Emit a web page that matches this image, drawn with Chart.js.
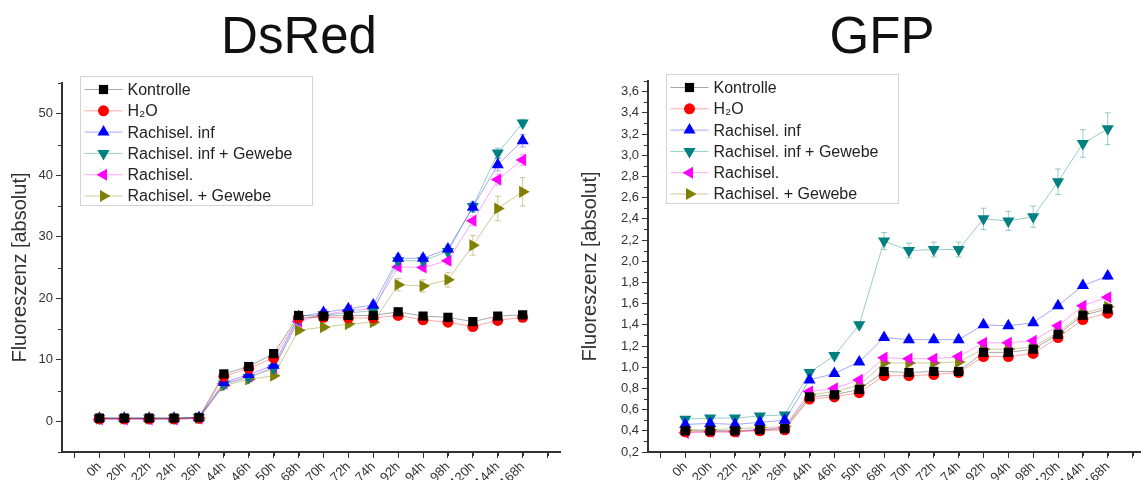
<!DOCTYPE html>
<html>
<head>
<meta charset="utf-8">
<script src="https://cdn.jsdelivr.net/npm/chart.js@4.4.1/dist/chart.umd.min.js"></script>
<style>
  html, body { margin: 0; padding: 0; background: #fff; overflow: hidden; width: 1141px; height: 480px; }
  .wrap { position: absolute; top: 0; height: 480px; }
  #w1 { left: 0; width: 598px; }
  #w2 { left: 578px; width: 608px; }
</style>
</head>
<body>
<div class="wrap" id="w1"><canvas id="dsred" width="598" height="480"></canvas></div>
<div class="wrap" id="w2"><canvas id="gfp" width="608" height="480"></canvas></div>
<script>
const hours = ['0h', '20h', '22h', '24h', '26h', '44h', '46h', '50h', '68h', '70h', '72h', '74h', '92h', '94h', '98h', '120h', '144h', '168h'];
const seriesNames = ['Kontrolle', 'H₂O', 'Rachisel. inf', 'Rachisel. inf + Gewebe', 'Rachisel.', 'Rachisel. + Gewebe'];

// DsRed
const dsKontrolle = [0.5, 0.5, 0.5, 0.5, 0.6, 7.7, 8.9, 11.0, 17.2, 17.1, 17.2, 17.2, 17.8, 17.1, 16.9, 16.2, 17.1, 17.3];
const dsH2O = [0.4, 0.4, 0.4, 0.4, 0.5, 7.3, 8.6, 10.3, 16.8, 16.9, 16.8, 16.8, 17.2, 16.5, 16.1, 15.4, 16.4, 16.9];
const dsRachInf = [0.5, 0.5, 0.5, 0.5, 0.6, 6.3, 7.6, 9.1, 17.0, 17.7, 18.3, 18.9, 26.5, 26.5, 28.0, 34.8, 41.7, 45.6];
const dsRachInfGewebe = [0.5, 0.5, 0.5, 0.5, 0.6, 6.0, 7.1, 8.6, 16.6, 17.3, 17.6, 18.0, 26.1, 26.1, 27.6, 34.9, 43.6, 48.5];
const dsRach = [0.3, 0.3, 0.3, 0.3, 0.4, 6.1, 7.3, 8.7, 16.2, 17.3, 18.0, 18.3, 25.1, 25.0, 26.1, 32.6, 39.3, 42.5];
const dsRachGewebe = [0.4, 0.4, 0.4, 0.4, 0.5, 5.8, 6.8, 7.4, 14.8, 15.3, 15.8, 16.1, 22.2, 22.0, 23.0, 28.6, 34.6, 37.3];

const dsErrKontrolle = [0.1, 0.1, 0.1, 0.1, 0.1, 0.3, 0.3, 0.4, 0.4, 0.3, 0.3, 0.3, 0.4, 0.3, 0.3, 0.4, 0.3, 0.4];
const dsErrH2O = [0.1, 0.1, 0.1, 0.1, 0.1, 0.3, 0.3, 0.4, 0.4, 0.3, 0.3, 0.3, 0.4, 0.3, 0.3, 0.4, 0.3, 0.4];
const dsErrRachInf = [0.1, 0.1, 0.1, 0.1, 0.1, 0.3, 0.3, 0.4, 0.4, 0.4, 0.4, 0.5, 0.6, 0.6, 0.6, 0.8, 1.0, 1.0];
const dsErrRachInfGewebe = [0.1, 0.1, 0.1, 0.1, 0.1, 0.3, 0.3, 0.4, 0.4, 0.4, 0.4, 0.5, 0.6, 0.6, 0.6, 0.8, 0.8, 0.6];
const dsErrRach = [0.1, 0.1, 0.1, 0.1, 0.1, 0.3, 0.3, 0.4, 0.4, 0.4, 0.4, 0.5, 0.6, 0.6, 0.6, 0.8, 0.9, 0.9];
const dsErrRachGewebe = [0.1, 0.1, 0.1, 0.1, 0.1, 0.3, 0.3, 0.4, 0.5, 0.5, 0.5, 0.5, 1.0, 1.0, 1.2, 1.6, 2.0, 2.3];

// GFP
const gfpKontrolle = [0.40, 0.40, 0.40, 0.41, 0.42, 0.72, 0.74, 0.79, 0.96, 0.95, 0.96, 0.96, 1.14, 1.14, 1.17, 1.31, 1.49, 1.55];
const gfpH2O = [0.39, 0.39, 0.39, 0.40, 0.41, 0.70, 0.72, 0.76, 0.92, 0.92, 0.93, 0.95, 1.10, 1.10, 1.13, 1.28, 1.45, 1.51];
const gfpRachInf = [0.46, 0.47, 0.46, 0.48, 0.50, 0.88, 0.94, 1.05, 1.28, 1.26, 1.26, 1.26, 1.40, 1.39, 1.42, 1.58, 1.77, 1.86];
const gfpRachInfGewebe = [0.51, 0.52, 0.52, 0.54, 0.55, 0.95, 1.11, 1.40, 2.19, 2.10, 2.11, 2.11, 2.40, 2.38, 2.42, 2.75, 3.11, 3.25];
const gfpRach = [0.38, 0.39, 0.39, 0.41, 0.43, 0.77, 0.80, 0.88, 1.09, 1.08, 1.08, 1.10, 1.23, 1.23, 1.25, 1.39, 1.58, 1.66];
const gfpRachGewebe = [0.41, 0.41, 0.42, 0.43, 0.44, 0.74, 0.77, 0.83, 1.04, 1.04, 1.04, 1.05, 1.17, 1.17, 1.19, 1.33, 1.51, 1.57];

const gfpErrSmall = [0.01, 0.01, 0.01, 0.01, 0.01, 0.02, 0.02, 0.02, 0.02, 0.02, 0.02, 0.02, 0.02, 0.02, 0.02, 0.02, 0.02, 0.03];
const gfpErrRachInfGewebe = [0.02, 0.02, 0.02, 0.02, 0.02, 0.03, 0.03, 0.03, 0.08, 0.07, 0.07, 0.07, 0.10, 0.09, 0.10, 0.12, 0.13, 0.15];

const dsYTicks = [0, 10, 20, 30, 40, 50];
const gfpYTicks = [0.2, 0.4, 0.6, 0.8, 1.0, 1.2, 1.4, 1.6, 1.8, 2.0, 2.2, 2.4, 2.6, 2.8, 3.0, 3.2, 3.4, 3.6];

const markColors = ['#000000', '#ff0000', '#0000ff', '#008080', '#ff00ff', '#808000'];
const lineColors = ['rgba(0,0,0,0.35)', 'rgba(255,0,0,0.35)', 'rgba(0,0,255,0.35)', 'rgba(0,128,128,0.4)', 'rgba(255,0,255,0.35)', 'rgba(128,128,0,0.4)'];
const pointStyles = ['rect', 'circle', 'triangle', 'triangle', 'triangle', 'triangle'];
const pointRotations = [0, 0, 0, 180, 270, 90];
const pointSizes = [6.5, 5.5, 7, 7, 7, 7];

const FONT = 'Arial, "Liberation Sans", sans-serif';

function makeDatasets(series, errors) {
  return series.map((values, i) => ({
    label: seriesNames[i],
    data: values.map((v, k) => ({ x: k, y: v })),
    err: errors[i],
    borderColor: lineColors[i],
    borderWidth: 1,
    backgroundColor: markColors[i],
    pointBackgroundColor: markColors[i],
    pointBorderWidth: 0,
    pointStyle: pointStyles[i],
    pointRotation: pointRotations[i],
    pointRadius: pointSizes[i],
    tension: 0
  }));
}

const errorBars = {
  id: 'errorBars',
  beforeDatasetsDraw(chart) {
    const ctx = chart.ctx, ys = chart.scales.y, xs = chart.scales.x;
    ctx.save();
    ctx.lineWidth = 1;
    chart.data.datasets.forEach(ds => {
      ctx.strokeStyle = ds.borderColor;
      ctx.beginPath();
      ds.data.forEach((p, k) => {
        const e = ds.err[k];
        const px = xs.getPixelForValue(p.x);
        const y1 = ys.getPixelForValue(p.y + e), y2 = ys.getPixelForValue(p.y - e);
        ctx.moveTo(px, y1); ctx.lineTo(px, y2);
        ctx.moveTo(px - 3, y1); ctx.lineTo(px + 3, y1);
        ctx.moveTo(px - 3, y2); ctx.lineTo(px + 3, y2);
      });
      ctx.stroke();
    });
    ctx.restore();
  }
};

const minorTicks = {
  id: 'minorTicks',
  afterDraw(chart, args, opts) {
    const ctx = chart.ctx, xs = chart.scales.x, ys = chart.scales.y;
    ctx.save();
    ctx.strokeStyle = '#333';
    ctx.lineWidth = 1;
    ctx.beginPath();
    for (let v = xs.min + 0.5; v < xs.max; v += 1) {
      const px = Math.round(xs.getPixelForValue(v)) + 0.5;
      ctx.moveTo(px, xs.top); ctx.lineTo(px, xs.top + 4);
    }
    for (let v = opts.yStart; v <= ys.max + 1e-9; v += opts.yStep) {
      const py = Math.round(ys.getPixelForValue(v)) + 0.5;
      ctx.moveTo(ys.right, py); ctx.lineTo(ys.right - 4, py);
    }
    ctx.stroke();
    ctx.restore();
  }
};

const boxLegend = {
  id: 'boxLegend',
  afterDatasetsDraw(chart, args, opts) {
    const ctx = chart.ctx, a = chart.chartArea;
    const left = Math.round(a.left + opts.dx) + 0.5, top = Math.round(a.top + opts.dy) + 0.5;
    const w = 232, h = 129, rowH = 21.3;
    ctx.save();
    ctx.fillStyle = '#fff';
    ctx.fillRect(left, top, w, h);
    ctx.strokeStyle = '#d4d4d4';
    ctx.lineWidth = 1;
    ctx.strokeRect(left, top, w, h);
    chart.data.datasets.forEach((ds, i) => {
      const cy = top + 13 + i * rowH;
      ctx.strokeStyle = ds.borderColor;
      ctx.beginPath();
      ctx.moveTo(left + 4, cy); ctx.lineTo(left + 42, cy);
      ctx.stroke();
      ctx.fillStyle = ds.pointBackgroundColor;
      Chart.helpers.drawPoint(ctx, { pointStyle: ds.pointStyle, rotation: ds.pointRotation, radius: ds.pointRadius, borderWidth: 0 }, left + 23, cy);
      ctx.fillStyle = '#222';
      ctx.font = '16px ' + FONT;
      ctx.textBaseline = 'middle';
      ctx.textAlign = 'left';
      ctx.fillText(ds.label, left + 47, cy + 1);
    });
    ctx.restore();
  }
};

const bigTitle = {
  id: 'bigTitle',
  afterDraw(chart, args, opts) {
    const ctx = chart.ctx;
    ctx.save();
    ctx.fillStyle = '#111';
    ctx.font = '51px ' + FONT;
    ctx.textAlign = 'center';
    ctx.textBaseline = 'alphabetic';
    ctx.fillText(opts.text, chart.width / 2, 53);
    ctx.restore();
  }
};

function makeChart(id, title, datasets, yMin, yMax, yTicks, yFmt, yMinorStart, yMinorStep, yWidth, padRight, titlePad, padTop) {
  return new Chart(document.getElementById(id), {
    type: 'line',
    data: { datasets: datasets },
    plugins: [errorBars, minorTicks, boxLegend, bigTitle],
    options: {
      responsive: false,
      animation: false,
      layout: { padding: { top: padTop, left: 0, right: padRight, bottom: 0 } },
      plugins: {
        legend: { display: false },
        tooltip: { enabled: false },
        minorTicks: { yStart: yMinorStart, yStep: yMinorStep },
        boxLegend: { dx: 18, dy: -7 },
        bigTitle: { text: title }
      },
      scales: {
        x: {
          type: 'linear',
          min: -1.5,
          max: 18.5,
          afterBuildTicks(scale) {
            const t = [];
            for (let v = -1; v <= 18; v++) t.push({ value: v });
            scale.ticks = t;
          },
          afterFit(scale) { scale.height = 28; },
          grid: { drawOnChartArea: false, drawTicks: true, tickLength: 6, tickColor: '#333', tickWidth: 1 },
          border: { display: true, color: '#333', width: 2 },
          ticks: {
            autoSkip: false,
            minRotation: 45,
            maxRotation: 45,
            padding: 1,
            color: '#333',
            font: { family: FONT, size: 13 },
            callback: v => (Number.isInteger(v) && v >= 0 && v < hours.length) ? hours[v] : ''
          }
        },
        y: {
          min: yMin,
          max: yMax,
          afterBuildTicks(scale) { scale.ticks = yTicks.map(v => ({ value: v })); },
          afterFit(scale) { scale.width = yWidth; },
          grid: { drawOnChartArea: false, drawTicks: true, tickLength: 6, tickColor: '#333', tickWidth: 1 },
          border: { display: true, color: '#333', width: 2 },
          ticks: {
            padding: 3,
            color: '#333',
            font: { family: FONT, size: 13 },
            callback: yFmt
          },
          title: {
            display: true,
            text: 'Fluoreszenz [absolut]',
            color: '#333',
            font: { family: FONT, size: 20 },
            padding: { top: titlePad, bottom: 0 }
          }
        }
      }
    }
  });
}

const dsChart = makeChart('dsred', 'DsRed',
  makeDatasets([dsKontrolle, dsH2O, dsRachInf, dsRachInfGewebe, dsRach, dsRachGewebe],
               [dsErrKontrolle, dsErrH2O, dsErrRachInf, dsErrRachInfGewebe, dsErrRach, dsErrRachGewebe]),
  -5, 55, dsYTicks, v => String(v), -5, 10, 62, 38, 8, 83);

const gfpChart = makeChart('gfp', 'GFP',
  makeDatasets([gfpKontrolle, gfpH2O, gfpRachInf, gfpRachInfGewebe, gfpRach, gfpRachGewebe],
               [gfpErrSmall, gfpErrSmall, gfpErrSmall, gfpErrRachInfGewebe, gfpErrSmall, gfpErrSmall]),
  0.2, 3.7, gfpYTicks, v => v.toFixed(1).replace('.', ','), 0.3, 0.2, 70, 41, 0, 81);
</script>
</body>
</html>
